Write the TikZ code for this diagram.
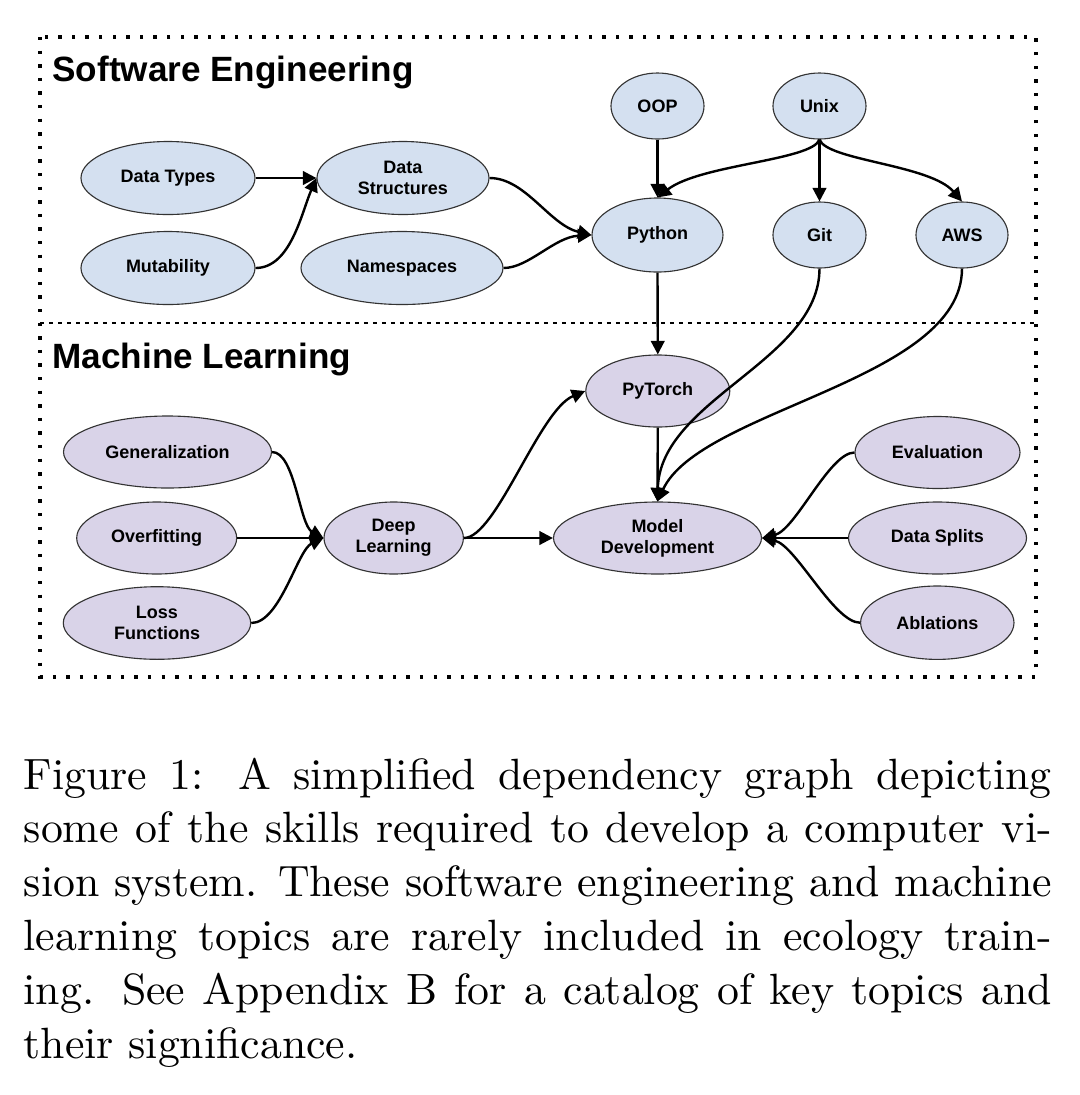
\documentclass[tikz,border=0pt]{standalone}
\usepackage{fontspec}
\usetikzlibrary{shapes.geometric,arrows.meta}
\newfontfamily\lsans{Liberation Sans}
\definecolor{seblue}{HTML}{D4E0F0}
\definecolor{mlpurple}{HTML}{D9D3E8}
\tikzset{
  skill/.style={ellipse, draw=black!80, line width=0.28pt, inner sep=0pt, align=center,
    font=\fontsize{4.5}{5.25}\selectfont\lsans\bfseries},
  se/.style={skill, fill=seblue},
  ml/.style={skill, fill=mlpurple},
  sz/.style 2 args={minimum width=#1, minimum height=#2},
  arr/.style={-{Triangle[length=3.4pt,width=3.4pt]}, line width=0.6pt},
  heading/.style={anchor=base west, inner sep=0pt, font=\fontsize{8.78}{10}\selectfont\lsans\bfseries},
  dotline/.style={line width=0.85pt, dash pattern=on 0.85pt off 2.55pt},
  divline/.style={line width=0.7pt, dash pattern=on 1.05pt off 1.2pt},
}
\begin{document}
\begin{tikzpicture}[x=0.25pt, y=-0.25pt]
\useasboundingbox (0,0) rectangle (1080,1095);
% frames
\draw[dotline] (40,37) rectangle (1036,677);
\draw[divline] (40,323) -- (1036,323);
\node[heading] (seh) at (51.7,81.7) {Software Engineering};
\node[heading] (mlh) at (51.7,368.3) {Machine Learning};
% software engineering nodes
\node[se, sz={43.5pt}{18.25pt}] (dt) at (168,178) {Data Types};
\node[se, sz={43.5pt}{18.25pt}] (mut) at (168,268) {Mutability};
\node[se, sz={43pt}{18.25pt}] (ds) at (403,178) {Data\\Structures};
\node[se, sz={50.5pt}{18.25pt}] (ns) at (402,268) {Namespaces};
\node[se, sz={23.25pt}{16.5pt}] (oop) at (657.5,106) {OOP};
\node[se, sz={23.25pt}{16.5pt}] (unix) at (819.5,106) {Unix};
\node[se, sz={32.75pt}{18.5pt}] (py) at (657.5,235) {Python};
\node[se, sz={23.25pt}{16.5pt}] (git) at (819.5,235) {Git};
\node[se, sz={23pt}{16.5pt}] (aws) at (962,235) {AWS};
% machine learning nodes
\node[ml, sz={52pt}{18pt}] (gen) at (167.5,452) {Generalization};
\node[ml, sz={40pt}{18pt}] (ovf) at (156.7,538) {Overfitting};
\node[ml, sz={46.85pt}{18.15pt}] (loss) at (157,623) {Loss\\Functions};
\node[ml, sz={34.85pt}{18pt}] (dl) at (393.7,538) {Deep\\Learning};
\node[ml, sz={36pt}{18pt}] (pyt) at (657.8,391) {PyTorch};
\node[ml, sz={52pt}{18pt}] (md) at (657.5,538) {Model\\Development};
\node[ml, sz={41.25pt}{18pt}] (ev) at (937.5,452.5) {Evaluation};
\node[ml, sz={44.5pt}{18pt}] (dsp) at (937.5,538) {Data Splits};
\node[ml, sz={38.35pt}{18.35pt}] (abl) at (937.3,622.7) {Ablations};
% connectors: software engineering
\draw[arr] (dt.east) -- (ds.west);
\draw[arr] (mut.east) .. controls +(35,0) and +(-15,35) .. (ds.west);
\draw[arr] (ds.east) .. controls +(36,0) and +(-42,-10) .. (py.west);
\draw[arr] (ns.east) .. controls +(25,0) and +(-37,2) .. (py.west);
\draw[arr] (oop.south) -- (py.north);
\draw[arr] (unix.south) .. controls +(-7.5,21) and +(42.5,-33) .. (py.north);
\draw[arr] (unix.south) -- (git.north);
\draw[arr] (unix.south) .. controls +(7.5,21) and +(-32,-37) .. (aws.north);
\draw[arr] (py.south) -- (pyt.north);
\draw[arr] (git.south) .. controls +(0,92) and +(2.5,-102) .. (md.north);
\draw[arr] (aws.south) .. controls +(0,112) and +(42.5,-92) .. (md.north);
% connectors: machine learning
\draw[arr] (pyt.south) -- (md.north);
\draw[arr] (dl.east) .. controls +(32,0) and +(-46,19) .. (pyt.west);
\draw[arr] (dl.east) -- (md.west);
\draw[arr] (gen.east) .. controls +(23,0) and +(-24,-13) .. (dl.west);
\draw[arr] (ovf.east) -- (dl.west);
\draw[arr] (loss.east) .. controls +(29,0) and +(-26,12) .. (dl.west);
\draw[arr] (ev.west) .. controls +(-25,0) and +(33.5,-8) .. (md.east);
\draw[arr] (dsp.west) -- (md.east);
\draw[arr] (abl.west) .. controls +(-26,0) and +(33.5,7) .. (md.east);
% caption
\node[anchor=base west, inner sep=0pt] (cap) at (23,789) {\parbox[t]{257pt}{\fontsize{10.95}{13.45}\selectfont\tolerance=10000\emergencystretch=5pt
Figure 1: A simplified dependency graph depicting\linebreak
some of the skills required to develop a computer vi-\linebreak
sion system. These software engineering and machine\linebreak
learning topics are rarely included in ecology train-\linebreak
ing. See Appendix B for a catalog of key topics and\linebreak
their significance.}};
\end{tikzpicture}
\end{document}
